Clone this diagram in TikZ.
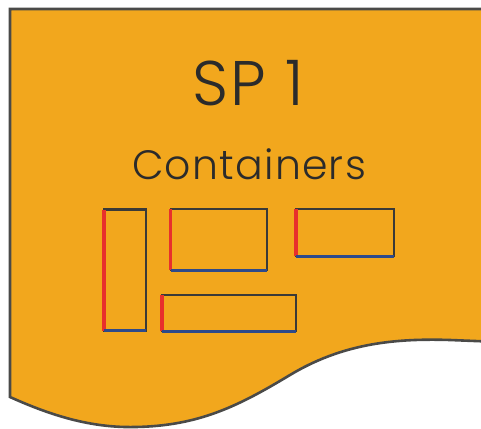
\documentclass[tikz,border=0pt]{standalone}
\usepackage{fontspec}
\setmainfont{Poppins Light}[LetterSpace=3]
\definecolor{panelfill}{HTML}{F2A71D}
\definecolor{panelline}{HTML}{4A4A48}
\definecolor{boxline}{HTML}{3A3A38}
\definecolor{edgered}{HTML}{E8302C}
\definecolor{edgeblue}{HTML}{2E4A8A}
\definecolor{textdark}{HTML}{2B2B2B}
\tikzset{
  container/.style={draw=boxline, line width=2.4pt, inner sep=0pt, outer sep=0pt, rectangle},
  redside/.style={draw=edgered, line width=3.2pt},
  blueside/.style={draw=edgeblue, line width=3pt},
}
\begin{document}
\begin{tikzpicture}[x=1pt, y=-1pt]
  \useasboundingbox (0,0) rectangle (481,428);
  % document-shaped panel with a wavy lower edge
  \begin{scope}
    \clip (0,0) rectangle (481,428);
    \draw[fill=panelfill, draw=panelline, line width=2.6pt]
      (500,342) -- (450,340)
      .. controls (390,338) and (340,345) .. (290,375)
      .. controls (240,405) and (200,426) .. (135,427)
      .. controls (90,428) and (50,415) .. (10,397)
      -- (10,9) -- (500,9);
  \end{scope}
  % titles
  \node[text=textdark, font=\fontsize{63}{66}\selectfont] (title) at (248,83) {SP 1};
  \node[text=textdark, font=\fontsize{41}{45}\selectfont] (subtitle) at (249,164) {Containers};
  % containers
  \node[container, minimum width=42pt, minimum height=121pt] (c1) at (125,270) {};
  \node[container, minimum width=96pt, minimum height=61pt] (c2) at (218.7,239.5) {};
  \node[container, minimum width=98pt, minimum height=47pt] (c3) at (345,232.5) {};
  \node[container, minimum width=134pt, minimum height=36pt] (c4) at (229,313) {};
  % coloured left and bottom sides
  \foreach \c in {c1,c2,c3,c4} {
    \draw[redside] (\c.north west) -- (\c.south west);
    \draw[blueside] (\c.south west) -- (\c.south east);
  }
\end{tikzpicture}
\end{document}
